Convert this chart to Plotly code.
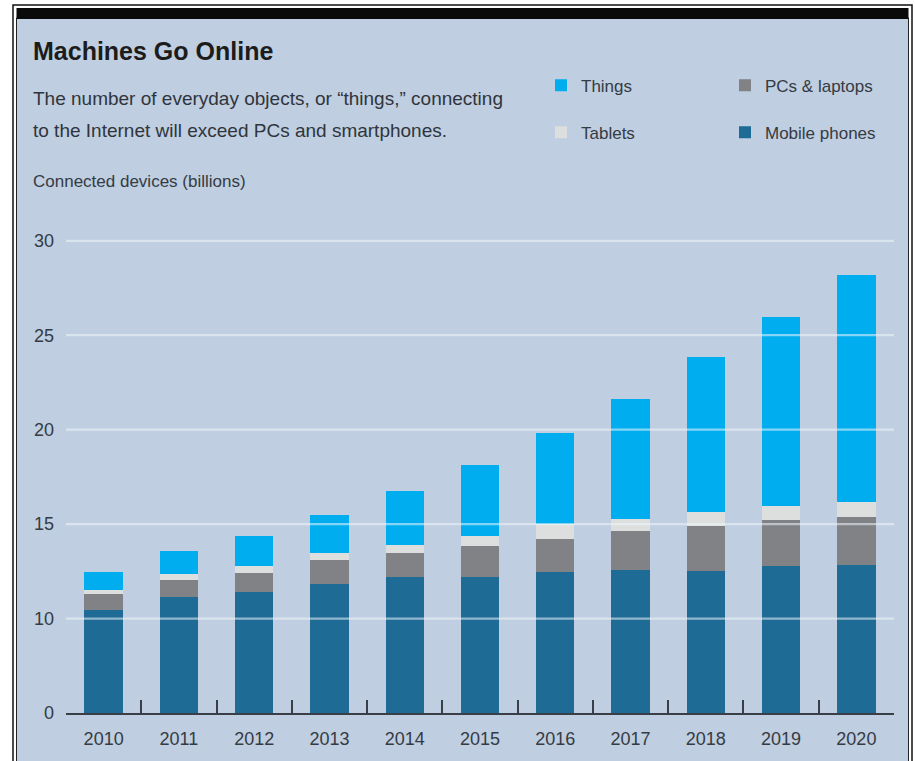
import plotly.graph_objects as go

# Connected devices (billions) by year, stacked bottom-up
years = ["2010", "2011", "2012", "2013", "2014", "2015", "2016", "2017", "2018", "2019", "2020"]
mobile_phones = [10.47, 11.16, 11.42, 11.85, 12.22, 12.18, 12.48, 12.59, 12.53, 12.80, 12.85]
pcs_laptops = [0.85, 0.90, 1.01, 1.26, 1.26, 1.68, 1.74, 2.05, 2.38, 2.42, 2.53]
tablets = [0.21, 0.31, 0.37, 0.37, 0.42, 0.52, 0.80, 0.64, 0.74, 0.74, 0.79]
things = [0.95, 1.22, 1.58, 2.01, 2.85, 3.75, 4.80, 6.32, 8.18, 10.03, 12.03]

# The value axis is broken: the baseline tick reads 0, then 10..30
y_tick_values = [5, 10, 15, 20, 25, 30]
y_tick_text = ["0", "10", "15", "20", "25", "30"]

W, H = 915, 761
L, R, T, B = 66, 21, 237, 46
PW, PH = W - L - R, H - T - B

FONT = "Liberation Sans, Arial, sans-serif"
TEXT = "#353b44"

C_THINGS = "#00aeef"
C_TABLETS = "#dcdfdd"
C_PCS = "#808285"
C_MOBILE = "#1e6b96"
C_PANEL = "#bfcee0"


def px_x(x):
    return (x - L) / PW


def px_y(y):
    return (H - B - y) / PH


fig = go.Figure()
series = [
    ("Mobile phones", mobile_phones, C_MOBILE, "legend2", 4),
    ("PCs & laptops", pcs_laptops, C_PCS, "legend2", 3),
    ("Tablets", tablets, C_TABLETS, "legend", 2),
    ("Things", things, C_THINGS, "legend", 1),
]
for name, vals, color, leg, rank in series:
    fig.add_trace(go.Bar(
        x=years, y=vals, name=name,
        marker=dict(color=color, line=dict(width=0)),
        legend=leg, legendgroup=name, legendrank=rank,
    ))

shapes = [
    # outer frame
    dict(type="rect", xref="paper", yref="paper",
         x0=px_x(13), x1=px_x(912), y0=px_y(4), y1=px_y(H + 10),
         line=dict(color="#111", width=1.5), fillcolor="white", layer="below"),
    # tinted panel
    dict(type="rect", xref="paper", yref="paper",
         x0=px_x(16.5), x1=px_x(908.5), y0=px_y(17), y1=px_y(H + 10),
         line=dict(color="#222", width=1), fillcolor=C_PANEL, layer="below"),
    # heavy top rule
    dict(type="rect", xref="paper", yref="paper",
         x0=px_x(16.5), x1=px_x(908.5), y0=px_y(7), y1=px_y(18),
         line=dict(width=0), fillcolor="#0a0a0a", layer="below"),
]
# light gridlines drawn across the bars
for v in y_tick_values[1:]:
    shapes.append(dict(type="line", xref="paper", yref="y", x0=0, x1=1, y0=v, y1=v,
                       line=dict(color="rgba(240,246,252,0.55)", width=2.2), layer="above"))

annotations = [
    dict(text="<b>Machines Go Online</b>", x=px_x(31), y=px_y(50),
         font=dict(size=25, color="#1c1c1c", family=FONT)),
    dict(text="The number of everyday objects, or \u201cthings,\u201d connecting", x=px_x(31), y=px_y(98),
         font=dict(size=19, color="#30353c", family=FONT)),
    dict(text="to the Internet will exceed PCs and smartphones.", x=px_x(31), y=px_y(130),
         font=dict(size=19, color="#30353c", family=FONT)),
    dict(text="Connected devices (billions)", x=px_x(31), y=px_y(181),
         font=dict(size=17, color=TEXT, family=FONT)),
]
for a in annotations:
    a.update(xref="paper", yref="paper", xanchor="left", yanchor="middle", showarrow=False)

legend_common = dict(
    orientation="v", bgcolor="rgba(0,0,0,0)", borderwidth=0,
    font=dict(size=17, color=TEXT, family=FONT),
    traceorder="grouped", tracegroupgap=22, itemwidth=30,
    xanchor="left", yanchor="top", itemclick=False, itemdoubleclick=False,
)

fig.update_layout(
    width=W, height=H,
    margin=dict(l=L, r=R, t=T, b=B, pad=0),
    paper_bgcolor="white", plot_bgcolor="rgba(0,0,0,0)",
    barmode="stack", bargap=0.49,
    showlegend=True,
    legend=dict(x=px_x(541), y=px_y(67), **legend_common),
    legend2=dict(x=px_x(725), y=px_y(67), **legend_common),
    shapes=shapes, annotations=annotations,
    font=dict(family=FONT, color=TEXT),
)
fig.update_xaxes(
    type="category", range=[-0.5, 10.5],
    showline=True, linecolor="#3a3f47", linewidth=1.5,
    ticks="inside", tickson="boundaries", ticklen=13, tickwidth=1.5, tickcolor="#3a3f47",
    tickfont=dict(size=18, color=TEXT, family=FONT), ticklabelstandoff=9,
    showgrid=False, zeroline=False, fixedrange=True,
)
fig.update_yaxes(
    range=[5, 30.2], tickvals=y_tick_values, ticktext=y_tick_text,
    ticks="", showline=False, showgrid=False, zeroline=False,
    tickfont=dict(size=18, color=TEXT, family=FONT), ticklabelstandoff=11,
    fixedrange=True,
)

fig.write_html("out.html")
